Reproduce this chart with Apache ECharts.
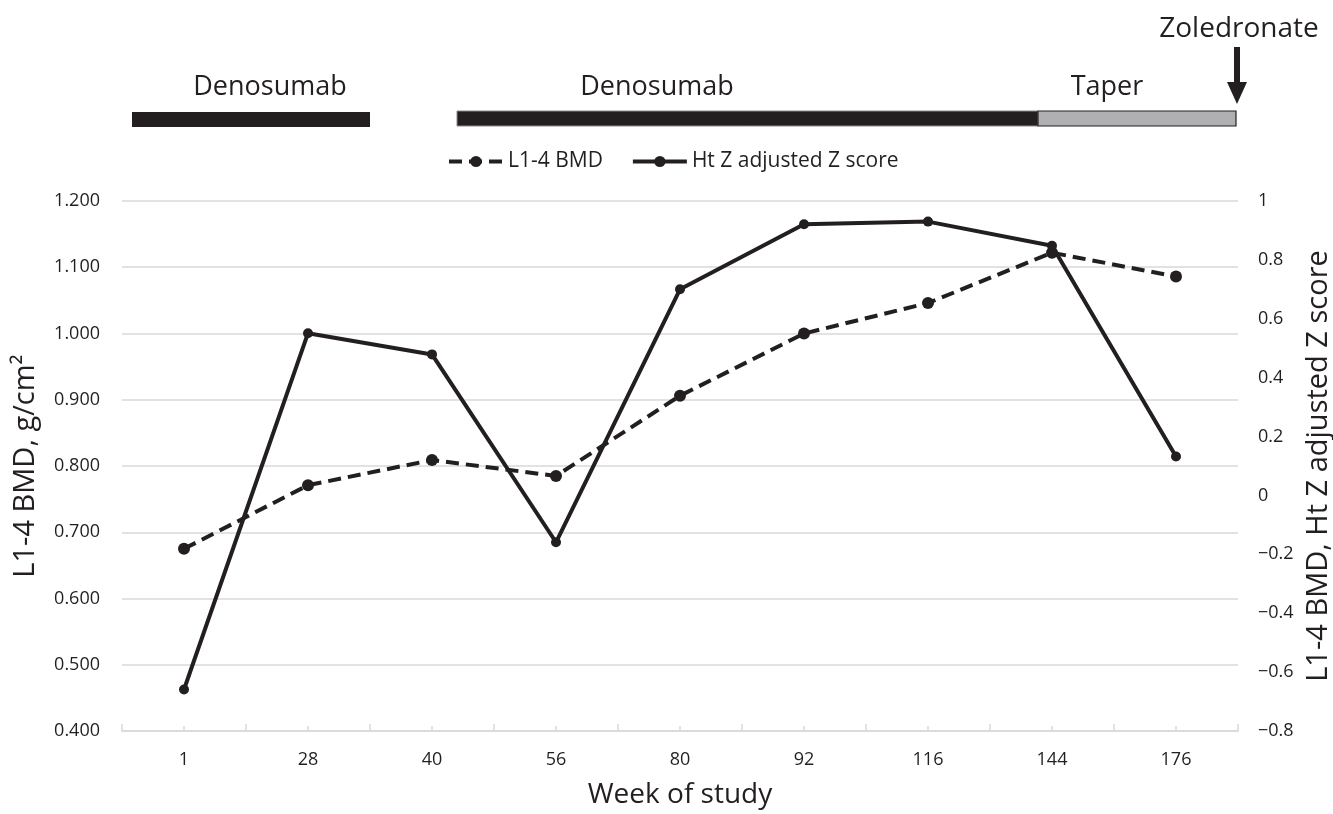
<!DOCTYPE html>
<html>
<head>
<meta charset="utf-8">
<script src="https://cdn.jsdelivr.net/npm/echarts@6/dist/echarts.min.js"></script>
<style>
  html, body { margin: 0; padding: 0; background: #ffffff; }
  #chart { width: 1333px; height: 814px; }
</style>
</head>
<body>
<div id="chart"></div>
<script>
// ---- Data ----
const weeks = ['1', '28', '40', '56', '80', '92', '116', '144', '176'];
const bmdValues = [0.675, 0.771, 0.809, 0.785, 0.906, 1.000, 1.046, 1.122, 1.086];
const zScoreValues = [-0.659, 0.551, 0.479, -0.159, 0.700, 0.921, 0.930, 0.848, 0.132];
const seriesNames = ['L1-4 BMD', 'Ht Z adjusted Z score'];
const leftAxisName = 'L1-4 BMD, g/cm\u00B2';
const rightAxisName = 'L1-4 BMD, Ht Z adjusted Z score';
const xAxisName = 'Week of study';
const treatmentLabels = ['Denosumab', 'Denosumab', 'Taper', 'Zoledronate'];

// ---- Styles ----
const INK = '#231f20';
const GRID = '#d9d9d9';
const FONT = '"Open Sans", "Noto Sans", sans-serif';

const chart = echarts.init(document.getElementById('chart'), null, { renderer: 'canvas' });

const option = {
  backgroundColor: '#ffffff',
  animation: false,
  textStyle: { fontFamily: FONT, color: INK },
  grid: { left: 122, right: 95, top: 201, bottom: 83, containLabel: false, outerBoundsMode: 'none' },
  legend: {
    left: 442,
    top: 146,
    itemWidth: 54,
    itemHeight: 14,
    itemGap: 28,
    lineStyle: { width: 4 },
    textStyle: { fontFamily: FONT, fontSize: 21, color: INK },
    data: seriesNames
  },
  xAxis: [
    {
      type: 'category',
      position: 'bottom',
      data: weeks,
      boundaryGap: true,
      name: xAxisName,
      nameLocation: 'middle',
      nameGap: 50,
      nameTextStyle: { fontFamily: FONT, fontSize: 28, color: INK },
      axisLine: { onZero: false, lineStyle: { color: GRID, width: 1.5 } },
      axisTick: { show: true, inside: true, length: 7, interval: 0, lineStyle: { color: GRID, width: 1.5 } },
      axisLabel: { margin: 20, fontSize: 18, color: INK, fontFamily: FONT, interval: 0 },
      splitLine: { show: false }
    },
    {
      type: 'category',
      position: 'bottom',
      data: weeks,
      boundaryGap: true,
      axisLine: { show: false, onZero: false },
      axisTick: { show: true, inside: true, length: 5, interval: 0, alignWithLabel: true, lineStyle: { color: GRID, width: 1.5 } },
      axisLabel: { show: false },
      splitLine: { show: false }
    }
  ],
  yAxis: [
    {
      type: 'value',
      position: 'left',
      min: 0.4,
      max: 1.2,
      interval: 0.1,
      name: leftAxisName,
      nameLocation: 'middle',
      nameRotate: 90,
      nameGap: 82,
      nameTextStyle: { fontFamily: FONT, fontSize: 29, color: INK },
      axisLine: { show: false },
      axisTick: { show: false },
      axisLabel: {
        margin: 22, fontSize: 18, color: INK, fontFamily: FONT,
        formatter: function (v) { return v.toFixed(3); }
      },
      splitLine: { show: true, lineStyle: { color: GRID, width: 1.5 } }
    },
    {
      type: 'value',
      position: 'right',
      min: -0.8,
      max: 1,
      interval: 0.2,
      name: rightAxisName,
      nameLocation: 'middle',
      nameRotate: 90,
      nameGap: 63,
      nameTextStyle: { fontFamily: FONT, fontSize: 29, color: INK },
      axisLine: { show: false },
      axisTick: { show: false },
      axisLabel: {
        margin: 20, fontSize: 18, color: INK, fontFamily: FONT,
        formatter: function (v) {
          const r = parseFloat(v.toFixed(1));
          return r < 0 ? '\u2212' + String(Math.abs(r)) : String(r);
        }
      },
      splitLine: { show: false }
    }
  ],
  series: [
    {
      name: seriesNames[0],
      type: 'line',
      xAxisIndex: 0,
      yAxisIndex: 0,
      data: bmdValues,
      symbol: 'circle',
      symbolSize: 12,
      itemStyle: { color: INK },
      lineStyle: { color: INK, width: 4, type: [13, 7] },
      z: 3
    },
    {
      name: seriesNames[1],
      type: 'line',
      xAxisIndex: 0,
      yAxisIndex: 1,
      data: zScoreValues,
      symbol: 'circle',
      symbolSize: 10,
      itemStyle: { color: INK },
      lineStyle: { color: INK, width: 4, type: 'solid' },
      z: 4
    }
  ],
  graphic: [
    // treatment bars
    { type: 'rect', shape: { x: 132, y: 112, width: 238, height: 15 }, style: { fill: INK } },
    { type: 'rect', shape: { x: 457, y: 111, width: 581, height: 15 }, style: { fill: INK, stroke: '#8a8a8c', lineWidth: 1 } },
    { type: 'rect', shape: { x: 1038, y: 111, width: 198, height: 15 }, style: { fill: '#b0b0b2', stroke: INK, lineWidth: 1.2 } },
    // labels
    { type: 'text', x: 270, y: 87, style: { text: treatmentLabels[0], font: '27px ' + FONT, fill: INK, textAlign: 'center', textVerticalAlign: 'middle' } },
    { type: 'text', x: 657, y: 87, style: { text: treatmentLabels[1], font: '27px ' + FONT, fill: INK, textAlign: 'center', textVerticalAlign: 'middle' } },
    { type: 'text', x: 1107, y: 87, style: { text: treatmentLabels[2], font: '27px ' + FONT, fill: INK, textAlign: 'center', textVerticalAlign: 'middle' } },
    { type: 'text', x: 1239, y: 29, style: { text: treatmentLabels[3], font: '28px ' + FONT, fill: INK, textAlign: 'center', textVerticalAlign: 'middle' } },
    // arrow
    { type: 'rect', shape: { x: 1234, y: 47, width: 6, height: 37 }, style: { fill: INK } },
    { type: 'polygon', shape: { points: [[1227, 82], [1247, 82], [1237, 104]] }, style: { fill: INK } }
  ]
};

chart.setOption(option);
</script>
</body>
</html>
